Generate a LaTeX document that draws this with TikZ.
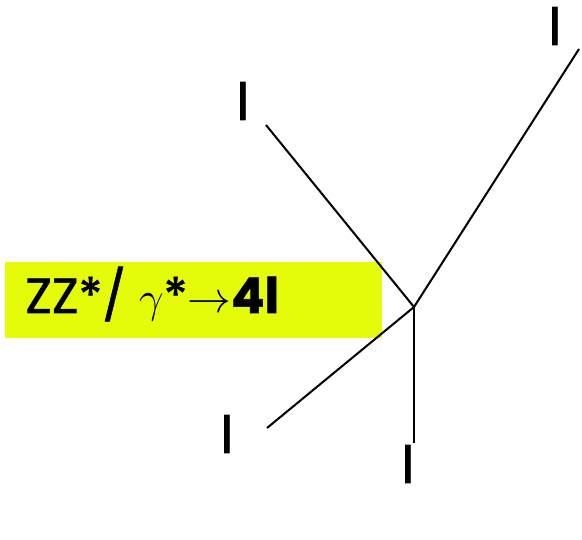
\documentclass[tikz,border=0pt]{standalone}
\usepackage{fontspec}
\setmainfont{Poppins}
\newfontfamily\tagfont[FakeBold=1.3]{Poppins}
\newfontfamily\lepfont[FakeBold=1.6]{Poppins}
\usepackage{tikz}
\definecolor{hzbox}{RGB}{228,251,10}
\definecolor{hzline}{RGB}{0,0,0}
\newlength{\pxu}
\setlength{\pxu}{0.02cm}
\tikzset{
  leg/.style={draw=hzline, line width=1.15pt},
  lep/.style={font=\fontsize{29}{34}\selectfont\lepfont, inner sep=0pt},
  tag/.style={fill=hzbox, inner sep=0pt, minimum width=377\pxu, minimum height=76\pxu, anchor=north west},
  tagtxt/.style={font=\fontsize{28}{33}\selectfont\tagfont, anchor=base west, inner sep=0pt}
}

\begin{document}
\begin{tikzpicture}[x=0.02cm,y=-0.02cm]
  \useasboundingbox (0,0) rectangle (582,540);
  % label box
  \node[tag] (box) at (5,262) {};
  \node[tagtxt] (decay) at (25,313) {ZZ*/ $\gamma$*$\rightarrow$\textbf{4l}};
  % vertex and lepton ends
  \coordinate (vtx) at (414,307);
  \coordinate (ul) at (266,125);
  \coordinate (ur) at (579,49);
  \coordinate (dl) at (267,428);
  \coordinate (dn) at (414,443);
  \draw[leg] (vtx) -- (ul);
  \draw[leg] (vtx) -- (ur);
  \draw[leg] (vtx) -- (dl);
  \draw[leg] (vtx) -- (dn);
  \node[lep] (lul) at (243,101) {l};
  \node[lep] (lur) at (555,26) {l};
  \node[lep] (ldl) at (227,434) {l};
  \node[lep] (ldn) at (408,464) {l};
\end{tikzpicture}
\end{document}
